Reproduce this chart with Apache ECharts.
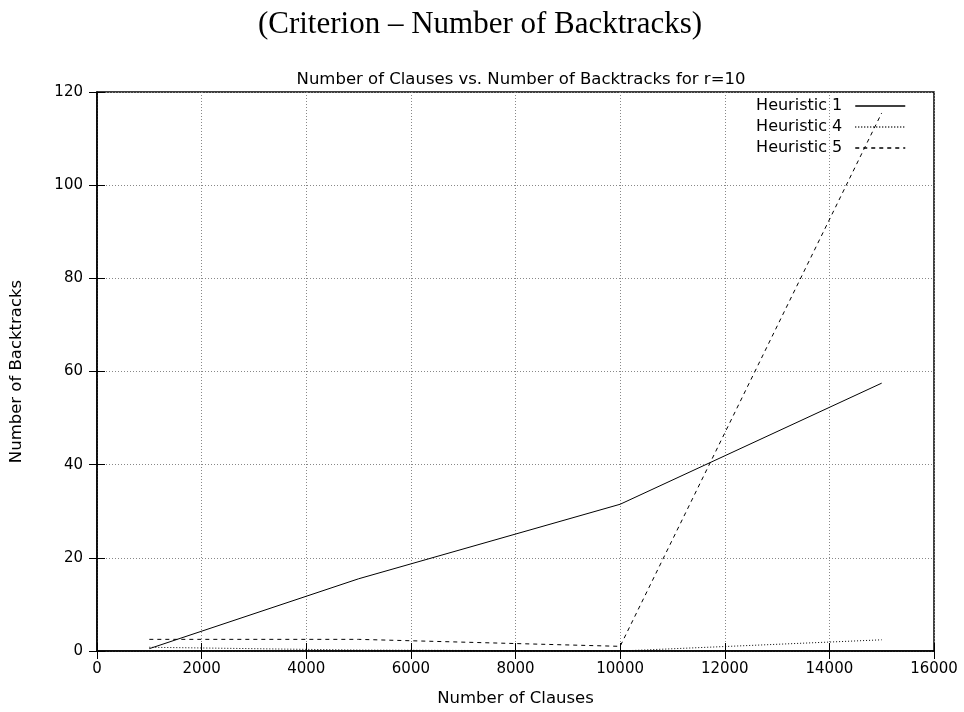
<!DOCTYPE html>
<html><head><meta charset="utf-8">
<script src="https://cdn.jsdelivr.net/npm/echarts@6/dist/echarts.min.js"></script>
<style>html,body{margin:0;padding:0;background:#fff}#c{width:964px;height:712px}</style>
</head><body><div id="c"></div>
<script>
const clauses = [1000, 5000, 10000, 15000];
const heuristic1 = [0.5, 15.5, 31.5, 57.5];
const heuristic4 = [0.8, 0.2, 0, 2.4];
const heuristic5 = [2.5, 2.5, 1.0, 115.5];
const seriesNames = ['Heuristic 1', 'Heuristic 4', 'Heuristic 5'];
const lineTypes = ['solid', [1, 2], [4, 4]];
const allData = [heuristic1, heuristic4, heuristic5];

const chart = echarts.init(document.getElementById('c'));
const font = 'DejaVu Sans, Verdana, sans-serif';
const gridLine = {show: true, lineStyle: {color: '#888', type: [1, 2], width: 1}};
chart.setOption({
  animation: false,
  backgroundColor: '#fff',
  title: [
    {text: '(Criterion – Number of Backtracks)', left: 475, top: 4, textAlign: 'center',
     textStyle: {fontFamily: 'Liberation Serif, Times New Roman, serif', fontSize: 31, fontWeight: 'normal', color: '#000'}},
    {text: 'Number of Clauses vs. Number of Backtracks for r=10', left: 516, top: 66, textAlign: 'center',
     textStyle: {fontFamily: font, fontSize: 16.5, fontWeight: 'normal', color: '#000'}}
  ],
  legend: {
    right: 53, top: 93, orient: 'vertical', align: 'right',
    itemWidth: 50, itemHeight: 14, itemGap: 5,
    itemStyle: {opacity: 0},
    lineStyle: {width: 1.5, color: '#000', opacity: 1},
    textStyle: {fontFamily: font, fontSize: 16, color: '#000', padding: [0, 8, 0, 0]},
    data: seriesNames
  },
  grid: {left: 97, right: 30, top: 92, bottom: 61, show: true, borderColor: '#000', borderWidth: 1.5},
  xAxis: [
    {type: 'value', min: 0, max: 16000, interval: 2000,
     name: 'Number of Clauses', nameLocation: 'middle', nameGap: 39,
     nameTextStyle: {fontFamily: font, fontSize: 16.5, color: '#000'},
     axisLine: {show: true, lineStyle: {color: '#000', width: 1.5}},
     axisTick: {show: true, inside: true, length: 8, lineStyle: {color: '#000'}},
     axisLabel: {fontFamily: font, fontSize: 15, color: '#000', margin: 11, formatter: v => String(v)},
     splitLine: gridLine},
    {type: 'value', position: 'top', min: 0, max: 16000, interval: 2000,
     axisLine: {show: false}, axisTick: {show: true, inside: true, length: 8, lineStyle: {color: '#000'}},
     axisLabel: {show: false}, splitLine: {show: false}}
  ],
  yAxis: [
    {type: 'value', min: 0, max: 120, interval: 20,
     name: 'Number of Backtracks', nameLocation: 'middle', nameGap: 72, nameRotate: 90,
     nameTextStyle: {fontFamily: font, fontSize: 16.5, color: '#000'},
     axisLine: {show: true, lineStyle: {color: '#000', width: 1.5}},
     axisTick: {show: true, inside: true, length: 8, lineStyle: {color: '#000'}},
     axisLabel: {fontFamily: font, fontSize: 15, color: '#000', margin: 14},
     splitLine: gridLine},
    {type: 'value', position: 'right', min: 0, max: 120, interval: 20,
     axisLine: {show: false}, axisTick: {show: true, inside: true, length: 8, lineStyle: {color: '#000'}},
     axisLabel: {show: false}, splitLine: {show: false}}
  ],
  series: seriesNames.map((n, i) => ({
    name: n, type: 'line', symbol: 'none', z: 5,
    data: clauses.map((c, j) => [c, allData[i][j]]),
    lineStyle: {color: '#000', width: 1, type: lineTypes[i]},
    itemStyle: {color: '#000'}
  }))
});
</script></body></html>
